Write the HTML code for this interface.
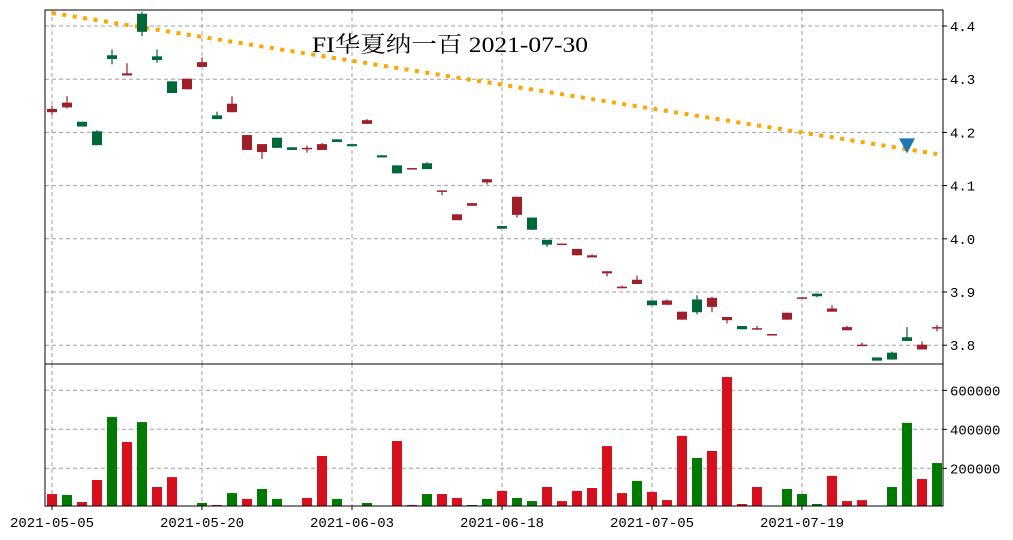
<!DOCTYPE html>
<html><head><meta charset="utf-8">
<style>
html,body{margin:0;padding:0;background:#fff;}
svg{display:block;}
text{font-family:"Liberation Mono","Noto Serif CJK SC",monospace;font-size:14px;fill:#000;}
</style></head>
<body>
<svg id="chart" width="1013" height="540" viewBox="0 0 1013 540" xmlns="http://www.w3.org/2000/svg">
<rect x="0" y="0" width="1013" height="540" fill="#fff"/>
<g id="grid"></g><g id="trend"></g><g id="candles"></g><g id="vols"></g><g id="axes"></g>
</svg>
<script>
const openP  = [4.238,4.247,4.220,4.202,4.345,4.307,4.423,4.343,4.296,4.281,4.323,4.232,4.238,4.167,4.163,4.190,4.172,4.169,4.167,4.187,4.178,4.216,4.157,4.138,4.131,4.142,4.089,4.035,4.062,4.106,4.024,4.045,4.040,3.998,3.989,3.969,3.965,3.935,3.907,3.915,3.884,3.876,3.848,3.886,3.872,3.847,3.836,3.830,3.819,3.848,3.888,3.897,3.863,3.828,3.799,3.777,3.786,3.815,3.792,3.832];
const closeP = [4.244,4.256,4.211,4.176,4.338,4.311,4.389,4.336,4.274,4.301,4.332,4.225,4.254,4.195,4.178,4.171,4.167,4.171,4.178,4.182,4.174,4.223,4.153,4.123,4.133,4.131,4.091,4.046,4.067,4.112,4.019,4.079,4.017,3.989,3.991,3.981,3.969,3.939,3.910,3.923,3.875,3.884,3.863,3.862,3.889,3.853,3.830,3.832,3.821,3.861,3.890,3.892,3.869,3.834,3.801,3.771,3.773,3.808,3.801,3.834];
const highP  = [4.250,4.268,4.220,4.204,4.356,4.330,4.427,4.356,4.296,4.301,4.341,4.239,4.268,4.195,4.178,4.190,4.172,4.175,4.180,4.187,4.178,4.225,4.157,4.138,4.133,4.144,4.091,4.046,4.067,4.112,4.024,4.079,4.040,3.998,3.991,3.981,3.971,3.939,3.912,3.931,3.884,3.886,3.863,3.894,3.891,3.853,3.836,3.836,3.821,3.861,3.890,3.897,3.875,3.836,3.805,3.777,3.788,3.834,3.807,3.838];
const lowP   = [4.233,4.245,4.211,4.176,4.328,4.307,4.381,4.331,4.274,4.281,4.323,4.225,4.238,4.167,4.150,4.171,4.167,4.162,4.167,4.182,4.174,4.216,4.153,4.123,4.131,4.131,4.082,4.035,4.062,4.102,4.019,4.040,4.017,3.985,3.989,3.969,3.965,3.929,3.907,3.915,3.875,3.876,3.848,3.858,3.862,3.841,3.830,3.830,3.819,3.848,3.888,3.890,3.863,3.828,3.799,3.771,3.773,3.808,3.792,3.826];
const volume = [68000,63000,27000,140000,463000,335000,437000,104000,155000,0,22000,12000,73000,43000,94000,43000,0,48000,263000,43000,0,22000,0,340000,12000,68000,68000,48000,12000,43000,84000,48000,32000,104000,32000,84000,99000,314000,73000,135000,79000,37000,366000,253000,289000,668000,17000,104000,0,94000,68000,17000,161000,32000,37000,0,104000,433000,145000,227000];
const volUp  = [1,0,1,1,0,1,0,1,1,1,0,1,0,1,0,0,1,1,1,0,1,0,1,1,1,0,1,1,0,0,1,0,0,1,1,1,1,1,1,0,1,1,1,0,1,1,1,1,1,0,0,0,1,1,1,1,0,0,1,0];
const xTickIdx = [0,10,20,30,40,50];
const xTickLabels = ["2021-05-05","2021-05-20","2021-06-03","2021-06-18","2021-07-05","2021-07-19"];
const priceTicks = [3.8,3.9,4.0,4.1,4.2,4.3,4.4];
const volTicks = [200000,400000,600000];
const trendStart = 4.4244, trendEnd = 4.1594;
const signalIdx = [57], signalPrice = [4.1774];

const NS="http://www.w3.org/2000/svg";
const L=45,R=943,T=10,MB=364,VB=506;
const xs=i=>52+15*i;
const yp=p=>26+(4.4-p)*532;
const yv=v=>507.3-v*39/200000;
function mk(tag,attrs,parent){const e=document.createElementNS(NS,tag);for(const k in attrs)e.setAttribute(k,attrs[k]);parent.appendChild(e);return e;}
const grid=document.getElementById('grid'),cg=document.getElementById('candles'),vg=document.getElementById('vols'),ax=document.getElementById('axes'),tg=document.getElementById('trend');
const gs={stroke:"#a0a0a0","stroke-width":1,"stroke-dasharray":"4,3"};
xTickIdx.forEach((ix,k)=>{
  const x=xs(ix);
  let g1=mk('line',Object.assign({x1:x,x2:x,y1:T,y2:MB},gs),grid);
  
  
  let g2=mk('line',Object.assign({x1:x,x2:x,y1:MB,y2:VB},gs),grid);
  
  
  let tk=mk('line',{x1:x,x2:x,y1:VB,y2:VB+4,stroke:"#000"},ax);
  
  
  let t=mk('text',{x:x,y:527,"text-anchor":"middle"},ax);t.textContent=xTickLabels[k];
  
  
});
priceTicks.forEach(p=>{
  const y=yp(p);
  let g=mk('line',Object.assign({x1:L,x2:R,y1:y,y2:y},gs),grid);
  
  
  mk('line',{x1:R,x2:R+4,y1:y,y2:y,stroke:"#000"},ax);
  let t=mk('text',{x:R+7,y:y+5},ax);t.textContent=p.toFixed(1);
  
  
});
volTicks.forEach(v=>{
  const y=yv(v);
  let g=mk('line',Object.assign({x1:L,x2:R,y1:y,y2:y},gs),grid);
  
  
  mk('line',{x1:R,x2:R+4,y1:y,y2:y,stroke:"#000"},ax);
  let t=mk('text',{x:R+7,y:y+5},ax);t.textContent=String(v);
  
  
});
// trend line
let tl=mk('line',{x1:xs(0),y1:yp(trendStart),x2:xs(openP.length-1),y2:yp(trendEnd),stroke:"#ffa500","stroke-width":4,"stroke-dasharray":"4,6.5"},tg);


// candles
for(let i=0;i<openP.length;i++){
  const up=closeP[i]>=openP[i];const col=up?"#9e1f27":"#006838";
  const x=xs(i);
  let w=mk('line',{x1:x,x2:x,y1:yp(highP[i]),y2:yp(lowP[i]),stroke:col,"stroke-width":1.2},cg);
  
  
  const top=yp(Math.max(openP[i],closeP[i])),bot=yp(Math.min(openP[i],closeP[i]));
  let b=mk('rect',{x:x-5,y:top,width:10,height:Math.max(bot-top,1.5),fill:col},cg);
  
  
  if(volume[i]>0){
    let v=mk('rect',{x:x-5,y:yv(volume[i]),width:10,height:VB-yv(volume[i]),fill:volUp[i]?"#d7101e":"#007a00"},vg);
    
    
  }
}
signalIdx.forEach((ix,k)=>{
  const x=xs(ix),y=yp(signalPrice[k]);
  let m=mk('path',{d:`M${x-8},${y-6} L${x+8},${y-6} L${x},${y+9} Z`,fill:"#1f77b4"},tg);
  
  
});
// frames
let f1=mk('rect',{x:L,y:T,width:R-L,height:MB-T,fill:"none",stroke:"#000","stroke-width":1},ax);


let f2=mk('rect',{x:L,y:MB,width:R-L,height:VB-MB,fill:"none",stroke:"#000","stroke-width":1},ax);


let title=mk('text',{x:312,y:52,"font-size":"22",textLength:276,lengthAdjust:"spacingAndGlyphs",style:'font-family:"Liberation Serif","Noto Serif CJK SC",serif;font-size:22px'},ax);
title.textContent="FI华夏纳一百 2021-07-30";


</script>
</body></html>
